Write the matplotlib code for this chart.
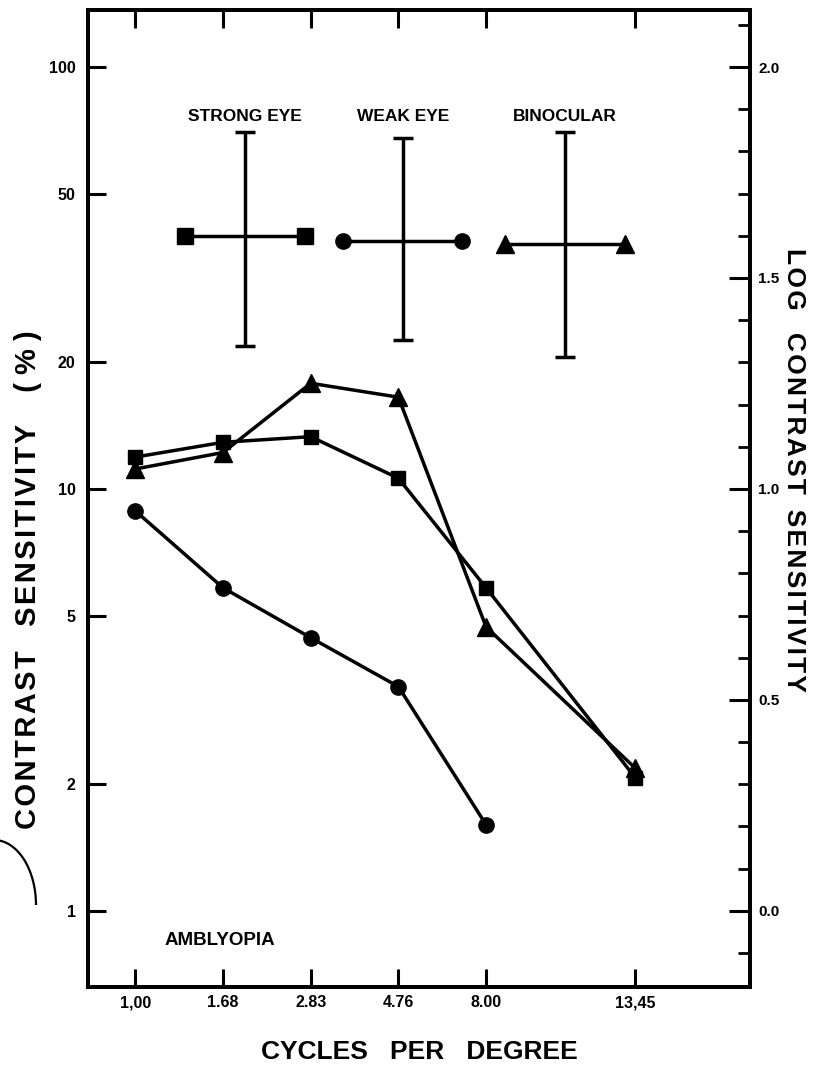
import numpy as np
import matplotlib.pyplot as plt
from matplotlib.patches import Arc

# spatial frequencies (cycles per degree) and contrast sensitivity
freq_labels = ["1,00", "1.68", "2.83", "4.76", "8.00", "13,45"]
strong_eye = [11.9, 12.9, 13.3, 10.6, 5.83, 2.07]
weak_eye = [8.87, 5.83, 4.44, 3.40, 1.60]
binocular = [11.15, 12.2, 17.8, 16.5, 4.71, 2.18]

# variability keys: mean, upper and lower sensitivity
key_names = ["STRONG EYE", "WEAK EYE", "BINOCULAR"]
key_mid = [39.8, 38.7, 38.1]
key_hi = [70.0, 67.9, 70.0]
key_lo = [21.8, 22.5, 20.5]

left_ticks = [1, 2, 5, 10, 20, 50, 100]
right_ticks = [0.0, 0.5, 1.0, 1.5, 2.0]

plt.rcParams['font.family'] = ['Liberation Sans', 'DejaVu Sans']
plt.rcParams['font.weight'] = 'bold'


def spaced(s):
    # open up the lettering slightly with hair spaces
    return "\u200a".join(s)


fig = plt.figure(figsize=(8.38, 10.74), dpi=100)
ax = fig.add_axes([88 / 838, 87 / 1074, 662 / 838, 977 / 1074])

# frequency axis is hand-spaced: the last step is wider
xpos = np.array([0, 1, 2, 3, 4, 5.7])

lw = 2.5
ax.plot(xpos, strong_eye, color='black', lw=lw, marker='s', ms=10.5, zorder=3)
ax.plot(xpos[:len(weak_eye)], weak_eye, color='black', lw=lw, marker='o', ms=11, zorder=3)
ax.plot(xpos, binocular, color='black', lw=lw, marker='^', ms=12.5, zorder=3)

# key crosses drawn inside the plot
key_x = [1.25, 3.05, 4.9]
key_half = 0.68
markers = ['s', 'o', '^']
for cx, mid, hi, lo, name, m in zip(key_x, key_mid, key_hi, key_lo, key_names, markers):
    ax.plot([cx - key_half, cx + key_half], [mid, mid], color='black', lw=lw,
            marker=m, ms=11 if m != '^' else 13, zorder=3)
    gm = np.sqrt(hi * lo)
    ax.errorbar([cx], [gm], yerr=[[gm - lo], [hi - gm]],
                fmt='none', ecolor='black', elinewidth=lw, capsize=7, capthick=lw)
    ax.text(cx, 0.891, name, transform=ax.get_xaxis_transform(), ha='center', va='center',
            fontsize=12.5, fontweight='bold')

ax.set_yscale('log')
ax.set_ylim(0.66, 136.5)
ax.set_xlim(-0.54, 7.01)

ax.set_xticks(xpos)
ax.set_xticklabels(freq_labels, fontsize=11.5, fontweight='bold')
ax.set_yticks(left_ticks)
ax.set_yticklabels([str(t) for t in left_ticks], fontsize=11.5, fontweight='bold')
ax.yaxis.set_minor_locator(plt.NullLocator())
ax.tick_params(axis='both', which='major', direction='in', length=13, width=2.2, pad=9,
               top=True, bottom=True, left=True, right=False)
ax.tick_params(axis='x', pad=6)

for sp in ax.spines.values():
    sp.set_linewidth(2.8)

# log contrast sensitivity on the right
ax2 = ax.twinx()
lo_lim, hi_lim = ax.get_ylim()
ax2.set_ylim(np.log10(lo_lim), np.log10(hi_lim))
ax2.set_yticks(right_ticks)
ax2.set_yticklabels([f"{t:.1f}" for t in right_ticks], fontsize=11, fontweight='bold')
ax2.set_yticks(np.arange(-0.1, 2.15, 0.1), minor=True)
ax2.tick_params(axis='y', which='major', direction='in', length=15, width=2.2, pad=6)
ax2.tick_params(axis='y', which='minor', direction='in', length=9, width=2.0)
for sp in ax2.spines.values():
    sp.set_linewidth(2.8)

ax.set_ylabel(spaced("CONTRAST") + "   " + spaced("SENSITIVITY") + "    ( % )",
              fontsize=21, fontweight='bold')
ax.yaxis.set_label_coords(-0.069, 0.417)
ax2.set_ylabel(spaced("LOG") + "   " + spaced("CONTRAST") + "  " + spaced("SENSITIVITY"),
               fontsize=19, fontweight='bold', rotation=-90)
ax2.yaxis.set_label_coords(1.084, 0.529)
ax.set_xlabel("CYCLES   PER   DEGREE", fontsize=19, fontweight='bold')
ax.xaxis.set_label_coords(0.5, -0.054)

ax.text(0.116, 0.048, "AMBLYOPIA", transform=ax.transAxes, fontsize=13.5, fontweight='bold',
        va='center', ha='left')

# stray curve at the left edge of the sheet
fig.add_artist(Arc((-6 / 838, 1 - 905 / 1074), 84 / 838, 130 / 1074, theta1=0, theta2=90,
                   transform=fig.transFigure, color='black', lw=1.6))

fig.savefig("out.png", dpi=100)
